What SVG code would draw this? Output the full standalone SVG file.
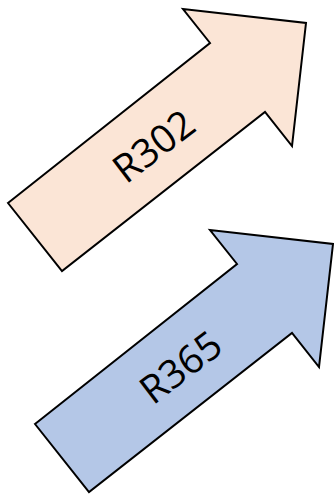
<svg xmlns="http://www.w3.org/2000/svg" width="334" height="496" viewBox="0 0 334 496">
<style>
.arrow{stroke:#000;stroke-width:2;stroke-linejoin:miter}
.lbl{font-family:"Open Sans","Liberation Sans",sans-serif;font-size:39px;fill:#000;text-anchor:middle}
</style>
<defs>
<polygon id="arr" points="8,203 210,43 183,9 306,23 292,146 265,112 62,271"/>
</defs>
<rect width="334" height="496" fill="#fff"/>
<g id="r302">
<use href="#arr" class="arrow" fill="#FBE5D6"/>
<text class="lbl" transform="translate(162,157) rotate(-37.5)">R302</text>
</g>
<g id="r365" transform="translate(27,221)">
<use href="#arr" class="arrow" fill="#B4C7E7"/>
<text class="lbl" transform="translate(162,157) rotate(-37.5)">R365</text>
</g>
<g id="connectors"/>
</svg>
